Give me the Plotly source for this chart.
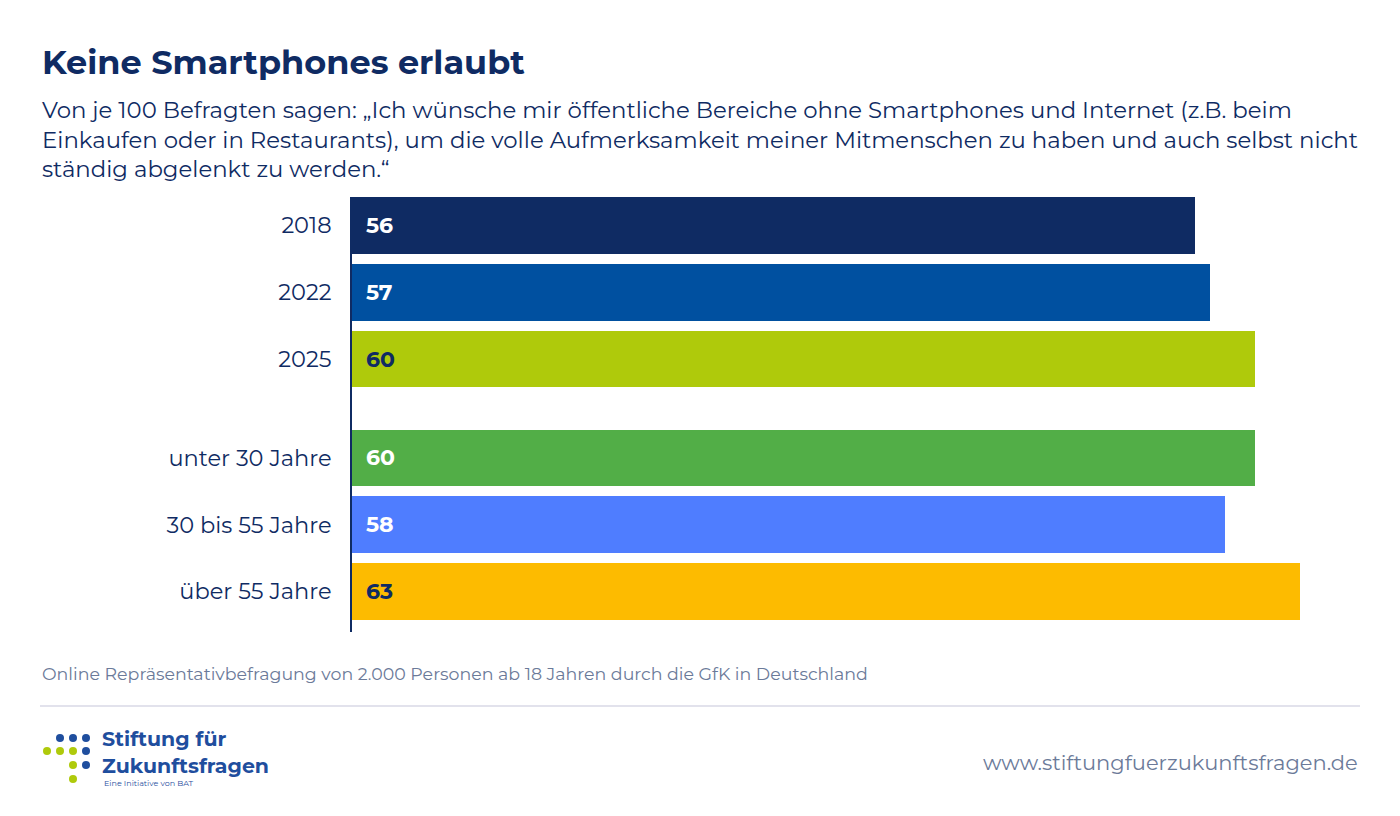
import plotly.graph_objects as go

# Daten
labels = ["2018", "2022", "2025", "unter 30 Jahre", "30 bis 55 Jahre", "über 55 Jahre"]
values = [56, 57, 60, 60, 58, 63]
positions = [0, 1, 2, 3.48, 4.48, 5.48]
colors = ["#0f2b63", "#0050a0", "#afca0b", "#52ae47", "#4f7dff", "#fdbb00"]
text_colors = ["white", "white", "#0f2b63", "white", "white", "#0f2b63"]

W, H = 1400, 816
OFF = 8  # Seitenrand des Browsers ausgleichen
NAVY = "#0f2b63"
FONT = "Montserrat, Open Sans, sans-serif"


def px(x):
    return (x - OFF) / W


def py(y):
    return 1 - (y - OFF) / H


fig = go.Figure()
fig.add_trace(go.Bar(
    x=values, y=positions, orientation="h", width=0.85,
    marker=dict(color=colors, line=dict(width=0)),
    hoverinfo="skip",
))

# Wertebeschriftungen in den Balken
for v, p, tc in zip(values, positions, text_colors):
    fig.add_annotation(x=0, y=p, xref="x", yref="y", text=f"<b>{v}</b>",
                       showarrow=False, xanchor="left", xshift=12,
                       font=dict(size=22, color=tc, family=FONT))

fig.update_xaxes(domain=[px(352), px(1345)], range=[0, 66], visible=False, fixedrange=True)
fig.update_yaxes(domain=[py(632), py(197)], range=[5.905 + 0.18, -0.425],
                 tickvals=positions, ticktext=labels, ticks="", showgrid=False,
                 zeroline=False, showline=True, linecolor=NAVY, linewidth=2,
                 tickfont=dict(size=22.5, color=NAVY, family=FONT), ticklabelstandoff=14)

# Titel und Untertitel
fig.add_annotation(x=px(40), y=py(62), xref="paper", yref="paper", xanchor="left", yanchor="middle",
                   text="<b>Keine Smartphones erlaubt</b>", showarrow=False,
                   font=dict(size=33.5, color=NAVY, family=FONT))
fig.add_annotation(x=px(40), y=py(140), xref="paper", yref="paper", xanchor="left", yanchor="middle",
                   align="left", showarrow=False,
                   text="Von je 100 Befragten sagen: „Ich wünsche mir öffentliche Bereiche ohne Smartphones und Internet (z.B. beim<br>"
                        "Einkaufen oder in Restaurants), um die volle Aufmerksamkeit meiner Mitmenschen zu haben und auch selbst nicht<br>"
                        "ständig abgelenkt zu werden.“",
                   font=dict(size=22.8, color=NAVY, family=FONT))
fig.add_annotation(x=px(40), y=py(673), xref="paper", yref="paper", xanchor="left", yanchor="middle",
                   text="Online Repräsentativbefragung von 2.000 Personen ab 18 Jahren durch die GfK in Deutschland",
                   showarrow=False, font=dict(size=17.4, color="#6b7a99", family=FONT))
fig.add_annotation(x=px(1360), y=py(762), xref="paper", yref="paper", xanchor="right", yanchor="middle",
                   text="www.stiftungfuerzukunftsfragen.de", showarrow=False,
                   font=dict(size=21, color="#6b7a99", family=FONT))

# Trennlinie
fig.add_shape(type="line", xref="paper", yref="paper", x0=px(40), x1=px(1360),
              y0=py(706), y1=py(706), line=dict(color="#e2e2ec", width=2))

# Logo
dots = [(60, 738, "#1f4e9e"), (73, 738, "#1f4e9e"), (86, 738, "#1f4e9e"),
        (47, 751, "#afca0b"), (60, 751, "#afca0b"), (73, 751, "#afca0b"), (86, 751, "#1f4e9e"),
        (73, 765, "#afca0b"), (86, 765, "#1f4e9e"), (73, 779, "#afca0b")]
r = 4
for dx, dy, c in dots:
    fig.add_shape(type="circle", xref="paper", yref="paper",
                  x0=px(dx - r), x1=px(dx + r), y0=py(dy + r), y1=py(dy - r),
                  fillcolor=c, line=dict(width=0))
fig.add_annotation(x=px(100), y=py(752), xref="paper", yref="paper", xanchor="left", yanchor="middle",
                   align="left", showarrow=False, text="<b>Stiftung für<br>Zukunftsfragen</b>",
                   font=dict(size=20.5, color="#1f4e9e", family=FONT))
fig.add_annotation(x=px(102), y=py(783), xref="paper", yref="paper", xanchor="left", yanchor="middle",
                   showarrow=False, text="Eine Initiative von BAT",
                   font=dict(size=8, color="#1f4e9e", family=FONT))

fig.update_layout(width=W, height=H, margin=dict(l=0, r=0, t=0, b=0),
                  plot_bgcolor="white", paper_bgcolor="white", showlegend=False,
                  bargap=0)

fig.write_html("out.html")
